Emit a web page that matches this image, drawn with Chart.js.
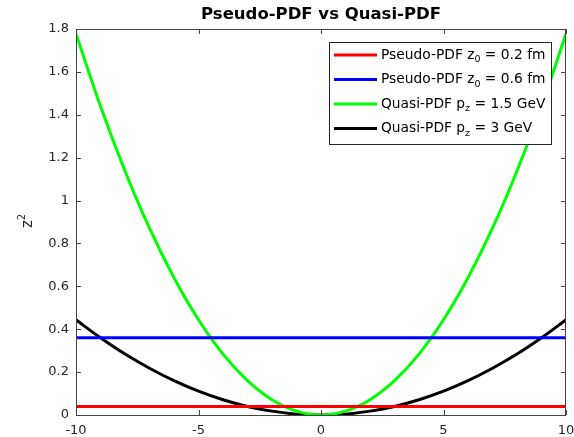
<!DOCTYPE html>
<html>
<head>
<meta charset="utf-8">
<script src="https://cdn.jsdelivr.net/npm/chart.js@4"></script>
<style>
  html, body { margin: 0; padding: 0; background: #fff; }
  #wrap { width: 574px; height: 437px; }
</style>
</head>
<body>
<div id="wrap"><canvas id="chart" width="574" height="437"></canvas></div>
<script>
// z values (x axis) and z^2 curves read per point
const zs = [-10, -9, -8, -7, -6, -5, -4, -3, -2, -1, 0, 1, 2, 3, 4, 5, 6, 7, 8, 9, 10];
const quasi15 = [1.778, 1.44, 1.138, 0.871, 0.64, 0.444, 0.284, 0.16, 0.071, 0.018, 0, 0.018, 0.071, 0.16, 0.284, 0.444, 0.64, 0.871, 1.138, 1.44, 1.778];
const quasi3 = [0.444, 0.36, 0.284, 0.218, 0.16, 0.111, 0.071, 0.04, 0.018, 0.004, 0, 0.004, 0.018, 0.04, 0.071, 0.111, 0.16, 0.218, 0.284, 0.36, 0.444];
const pseudoEnds = [-10, 10];
const pseudo02 = [0.04, 0.04];
const pseudo06 = [0.36, 0.36];

const xTicks = [-10, -5, 0, 5, 10];
const yTicks = [0, 0.2, 0.4, 0.6, 0.8, 1, 1.2, 1.4, 1.6, 1.8];

// legend entries: [main text, subscript, rest, colour]
const legendItems = [
  ['Pseudo-PDF z', '0', ' = 0.2 fm', '#ff0000'],
  ['Pseudo-PDF z', '0', ' = 0.6 fm', '#0000ff'],
  ['Quasi-PDF p', 'z', ' = 1.5 GeV', '#00ff00'],
  ['Quasi-PDF p', 'z', ' = 3 GeV', '#000000']
];

const pts = (xs, ys) => xs.map((x, i) => ({ x: x, y: ys[i] }));
const FONT = '"DejaVu Sans", sans-serif';

// box, inward ticks, title, y label and legend
const decor = {
  id: 'decor',
  afterDraw(chart) {
    const { ctx, chartArea: a, scales } = chart;
    ctx.save();
    ctx.strokeStyle = '#444';
    ctx.lineWidth = 1;
    ctx.strokeRect(a.left + 0.5, a.top + 0.5, a.right - a.left - 1, a.bottom - a.top);
    ctx.beginPath();
    xTicks.forEach(v => {
      const px = Math.round(scales.x.getPixelForValue(v)) + 0.5;
      ctx.moveTo(px, a.bottom); ctx.lineTo(px, a.bottom - 5);
      ctx.moveTo(px, a.top); ctx.lineTo(px, a.top + 5);
    });
    yTicks.forEach(v => {
      const py = Math.round(scales.y.getPixelForValue(v)) + 0.5;
      ctx.moveTo(a.left, py); ctx.lineTo(a.left + 5, py);
      ctx.moveTo(a.right, py); ctx.lineTo(a.right - 5, py);
    });
    ctx.stroke();

    // title
    ctx.fillStyle = '#000';
    ctx.font = 'bold 16.5px ' + FONT;
    ctx.textAlign = 'center';
    ctx.textBaseline = 'middle';
    ctx.fillText('Pseudo-PDF vs Quasi-PDF', (a.left + a.right) / 2, 15);

    // y axis label z^2, rotated
    ctx.save();
    ctx.translate(28, 222);
    ctx.rotate(-Math.PI / 2);
    ctx.fillStyle = '#262626';
    ctx.textAlign = 'left';
    ctx.font = '15px ' + FONT;
    ctx.fillText('z', -6, 0);
    const zw = ctx.measureText('z').width;
    ctx.font = '10px ' + FONT;
    ctx.fillText('2', -6 + zw, -6);
    ctx.restore();

    // legend
    const lx = 329, ly = 42, lw = 222, lh = 102;
    ctx.fillStyle = '#fff';
    ctx.fillRect(lx, ly, lw, lh);
    ctx.strokeStyle = '#262626';
    ctx.lineWidth = 1;
    ctx.strokeRect(lx + 0.5, ly + 0.5, lw, lh);
    ctx.textAlign = 'left';
    ctx.textBaseline = 'middle';
    legendItems.forEach((it, i) => {
      const y = 55 + i * 24.5;
      ctx.strokeStyle = it[3];
      ctx.lineWidth = 3;
      ctx.beginPath();
      ctx.moveTo(334, y); ctx.lineTo(377, y);
      ctx.stroke();
      ctx.fillStyle = '#000';
      let x = 381;
      ctx.font = '13.8px ' + FONT;
      ctx.fillText(it[0], x, y);
      x += ctx.measureText(it[0]).width;
      ctx.font = '9.5px ' + FONT;
      ctx.fillText(it[1], x, y + 5);
      x += ctx.measureText(it[1]).width;
      ctx.font = '13.8px ' + FONT;
      ctx.fillText(it[2], x, y);
    });
    ctx.restore();
  }
};

const line = (label, data, color) => ({
  label: label,
  data: data,
  borderColor: color,
  borderWidth: 3,
  pointRadius: 0,
  fill: false,
  cubicInterpolationMode: 'monotone'
});

new Chart(document.getElementById('chart'), {
  type: 'line',
  data: {
    datasets: [
      line('Pseudo-PDF z0 = 0.2 fm', pts(pseudoEnds, pseudo02), '#ff0000'),
      line('Pseudo-PDF z0 = 0.6 fm', pts(pseudoEnds, pseudo06), '#0000ff'),
      line('Quasi-PDF pz = 1.5 GeV', pts(zs, quasi15), '#00ff00'),
      line('Quasi-PDF pz = 3 GeV', pts(zs, quasi3), '#000000')
    ]
  },
  options: {
    responsive: false,
    animation: false,
    layout: { padding: { top: 29, right: 8, left: 0, bottom: 0 } },
    plugins: { legend: { display: false }, title: { display: false }, tooltip: { enabled: false } },
    scales: {
      x: {
        type: 'linear',
        min: -10, max: 10,
        afterBuildTicks: s => { s.ticks = xTicks.map(v => ({ value: v })); },
        afterFit: s => { s.height = 22; s.paddingLeft = 0; s.paddingRight = 0; },
        grid: { display: false, drawTicks: false },
        border: { display: false },
        ticks: { color: '#262626', font: { family: FONT, size: 13 }, padding: 8, maxRotation: 0 }
      },
      y: {
        min: 0, max: 1.8,
        afterBuildTicks: s => { s.ticks = yTicks.map(v => ({ value: v })); },
        afterFit: s => { s.width = 76; s.paddingTop = 0; s.paddingBottom = 0; },
        grid: { display: false, drawTicks: false },
        border: { display: false },
        ticks: { color: '#262626', font: { family: FONT, size: 13 }, padding: 7, callback: v => String(v) }
      }
    }
  },
  plugins: [decor]
});
</script>
</body>
</html>
